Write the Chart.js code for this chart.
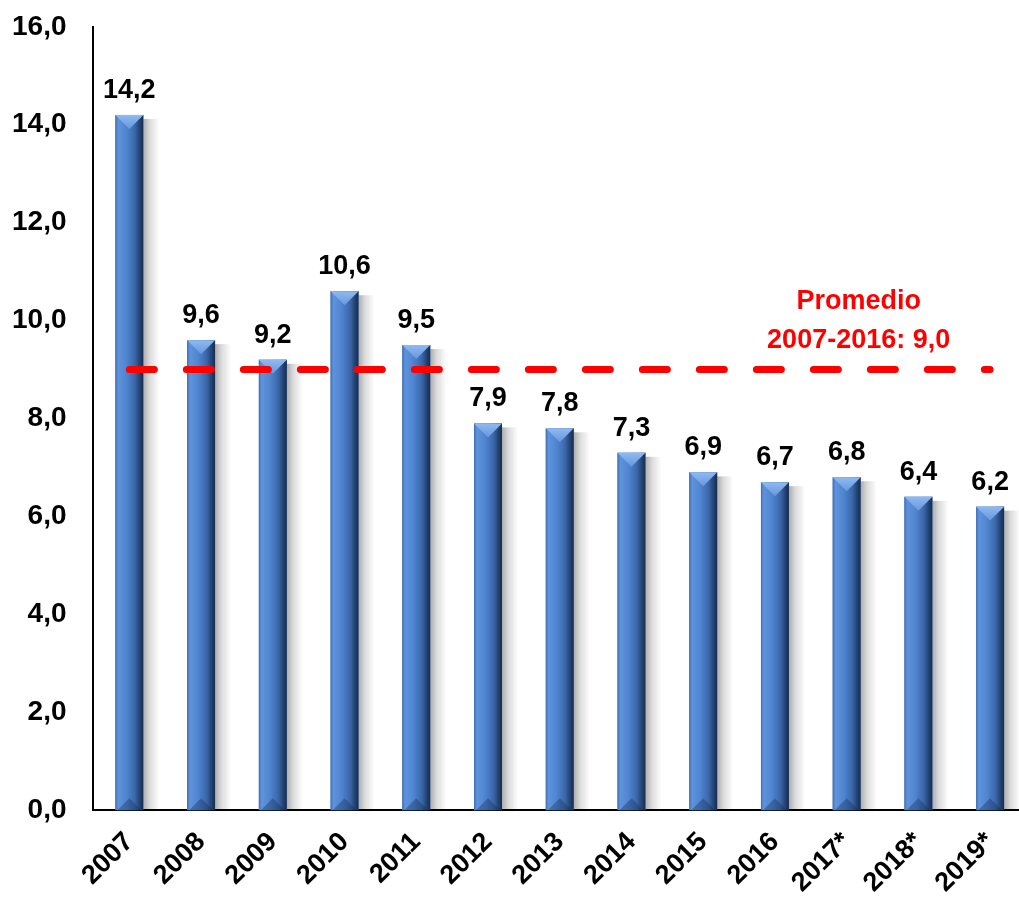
<!DOCTYPE html>
<html>
<head>
<meta charset="utf-8">
<script src="https://cdn.jsdelivr.net/npm/chart.js@4/dist/chart.umd.min.js"></script>
<style>
  html, body { margin: 0; padding: 0; background: #fff; overflow: hidden; }
  #wrap { position: absolute; left: -27px; top: -17px; width: 1053px; height: 936px; }
</style>
</head>
<body>
<div id="wrap"><canvas id="grafico"></canvas></div>
<script>
const anios = ['2007', '2008', '2009', '2010', '2011', '2012', '2013', '2014', '2015', '2016', '2017*', '2018*', '2019*'];
const valores = [14.2, 9.6, 9.2, 10.6, 9.5, 7.9, 7.8, 7.3, 6.9, 6.7, 6.8, 6.4, 6.2];
const promedio = 9.0;
const ticksY = [0, 2, 4, 6, 8, 10, 12, 14, 16];
const textoPromedio = ['Promedio', '2007-2016: 9,0'];

const FUENTE = '"Liberation Sans", Arial, sans-serif';
const coma = v => Number(v).toFixed(1).replace('.', ',');

// barras con bisel, sombra, etiquetas y texto del promedio
const bisel = {
  id: 'bisel',
  beforeDatasetsDraw(chart) {
    const ctx = chart.ctx;
    chart.getDatasetMeta(0).data.forEach(bar => {
      const R = bar.x + bar.width / 2;
      const g = ctx.createLinearGradient(R, 0, R + 16, 0);
      g.addColorStop(0, 'rgba(0,0,0,0.32)');
      g.addColorStop(0.4, 'rgba(0,0,0,0.14)');
      g.addColorStop(1, 'rgba(0,0,0,0)');
      ctx.save();
      ctx.fillStyle = g;
      ctx.fillRect(R, bar.y + 4, 16, bar.base - bar.y - 4);
      ctx.restore();
    });
  },
  afterDatasetDraw(chart, args) {
    if (args.index !== 0) return;
    const ctx = chart.ctx;
    args.meta.data.forEach(bar => {
      const w = bar.width, L = bar.x - w / 2, R = bar.x + w / 2;
      const T = bar.y, B = bar.base, b = w / 2;
      ctx.save();
      const cuerpo = ctx.createLinearGradient(L, 0, R, 0);
      cuerpo.addColorStop(0, '#3f6fb5');
      cuerpo.addColorStop(0.1, '#5f93dc');
      cuerpo.addColorStop(0.4, '#4f84cf');
      cuerpo.addColorStop(0.7, '#3a66a8');
      cuerpo.addColorStop(0.88, '#22416f');
      cuerpo.addColorStop(1, '#172c4f');
      ctx.fillStyle = cuerpo;
      ctx.fillRect(L, T, w, B - T);

      const tapa = ctx.createLinearGradient(0, T, 0, T + b);
      tapa.addColorStop(0, '#8fbaf2');
      tapa.addColorStop(1, '#6797dc');
      ctx.fillStyle = tapa;
      ctx.beginPath();
      ctx.moveTo(L, T);
      ctx.lineTo(R, T);
      ctx.lineTo(bar.x, T + b);
      ctx.closePath();
      ctx.fill();

      ctx.fillStyle = 'rgba(20,40,80,0.35)';
      ctx.beginPath();
      ctx.moveTo(L + 2, B);
      ctx.lineTo(R - 2, B);
      ctx.lineTo(bar.x, B - b + 2);
      ctx.closePath();
      ctx.fill();
      ctx.restore();
    });
  },
  afterDatasetsDraw(chart) {
    const ctx = chart.ctx;
    const x = chart.scales.x, y = chart.scales.y;
    ctx.save();
    ctx.font = 'bold 27px ' + FUENTE;
    ctx.fillStyle = '#000';
    ctx.textAlign = 'center';
    ctx.textBaseline = 'alphabetic';
    chart.getDatasetMeta(0).data.forEach((bar, i) => {
      ctx.fillText(coma(valores[i]), bar.x, bar.y - 17);
    });
    ctx.fillStyle = '#ff0000';
    const cx = x.getPixelForValue(10) + 12;
    const yp = y.getPixelForValue(promedio);
    ctx.fillText(textoPromedio[0], cx, yp - 61);
    ctx.fillText(textoPromedio[1], cx, yp - 22);
    ctx.restore();
  }
};

new Chart(document.getElementById('grafico'), {
  data: {
    labels: anios,
    datasets: [
      {
        type: 'bar',
        data: valores,
        backgroundColor: '#4a7cc4',
        barPercentage: 0.39,
        categoryPercentage: 1,
        order: 2
      },
      {
        type: 'line',
        data: anios.map(() => promedio),
        borderColor: '#ff0000',
        borderWidth: 7,
        borderDash: [25, 32],
        borderCapStyle: 'round',
        pointRadius: 0,
        fill: false,
        order: 1
      }
    ]
  },
  options: {
    responsive: true,
    maintainAspectRatio: false,
    animation: false,
    layout: { padding: { top: 0, left: 12, right: 0, bottom: 4 } },
    plugins: { legend: { display: false }, tooltip: { enabled: false } },
    scales: {
      x: {
        offset: true,
        grid: { display: false, drawTicks: false },
        border: { display: true, color: '#000', width: 2 },
        afterFit: s => { s.paddingLeft = 0; s.paddingRight = 0; },
        ticks: {
          color: '#000',
          font: { family: FUENTE, size: 27, weight: 'bold' },
          maxRotation: 45,
          minRotation: 45,
          padding: 16
        }
      },
      y: {
        min: 0,
        max: 16,
        grid: { display: false, drawTicks: false },
        border: { display: true, color: '#000', width: 2 },
        afterBuildTicks: s => { s.ticks = ticksY.map(v => ({ value: v })); },
        ticks: {
          color: '#000',
          font: { family: FUENTE, size: 28, weight: 'bold' },
          padding: 27,
          callback: v => coma(v)
        }
      }
    }
  },
  plugins: [bisel]
});
</script>
</body>
</html>
